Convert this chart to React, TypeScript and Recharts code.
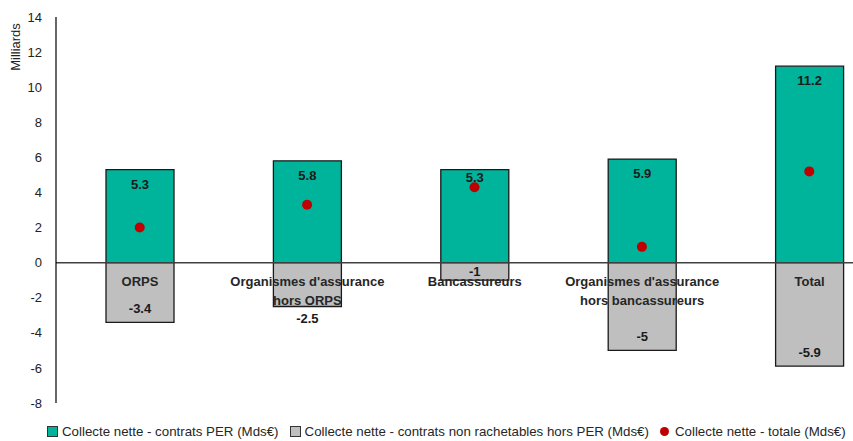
import React from 'react';
import {
  ComposedChart,
  Bar,
  Scatter,
  XAxis,
  YAxis,
  ReferenceLine,
  Legend,
  LabelList,
} from 'recharts';

const categories = [
  'ORPS',
  "Organismes d'assurance hors ORPS",
  'Bancassureurs',
  "Organismes d'assurance hors bancassureurs",
  'Total',
];
const perValues = [5.3, 5.8, 5.3, 5.9, 11.2];
const nonRachetablesValues = [-3.4, -2.5, -1, -5, -5.9];
const totalValues = [2.0, 3.3, 4.3, 0.9, 5.2];
const yTicks = [-8, -6, -4, -2, 0, 2, 4, 6, 8, 10, 12, 14];

const seriesNames = {
  per: 'Collecte nette - contrats PER (Mds€)',
  nonRach: 'Collecte nette - contrats non rachetables hors PER (Mds€)',
  total: 'Collecte nette - totale (Mds€)',
};

const TEAL = '#00B39B';
const GREY = '#BFBFBF';
const RED = '#C00000';
const FONT = '"Liberation Sans", Arial, sans-serif';

const data = categories.map((name, i) => ({
  name,
  per: perValues[i],
  nonRach: nonRachetablesValues[i],
  total: totalValues[i],
}));

const box = (props: any) => {
  const vb = props.viewBox && props.viewBox.width != null ? props.viewBox : props;
  const { x, y, width, height } = vb;
  return {
    cx: x + width / 2,
    top: Math.min(y, y + height),
    bottom: Math.max(y, y + height),
    h: Math.abs(height),
  };
};

const PerLabel = (props: any) => {
  const { cx, top } = box(props);
  const pad = props.index === 2 ? 8 : 14.5;
  return (
    <text x={cx} y={top + pad} textAnchor="middle" dominantBaseline="central"
      fontSize={13} fontWeight="bold" fill="#1a1a1a" fontFamily={FONT}>
      {props.value}
    </text>
  );
};

const NonRachLabel = (props: any) => {
  const { cx, bottom, h } = box(props);
  let cy = bottom - Math.min(14, h / 2);
  if (props.index === 1) cy = bottom + 12;
  return (
    <text x={cx} y={cy} textAnchor="middle" dominantBaseline="central"
      fontSize={13} fontWeight="bold" fill="#1a1a1a" fontFamily={FONT}>
      {props.value}
    </text>
  );
};

// category names sit just under the zero line, i.e. the top of the negative bars
const CategoryLabel = (props: any) => {
  const { cx, top } = box(props);
  const name = String(props.value);
  const idx = name.indexOf(' hors ');
  const lines = idx > 0 ? [name.slice(0, idx), name.slice(idx + 1)] : [name];
  return (
    <text textAnchor="middle" fontSize={13} fontWeight="bold" fill="#262626" fontFamily={FONT}>
      {lines.map((l, i) => (
        <tspan key={i} x={cx} y={top + 23.5 + i * 18.5}>{l}</tspan>
      ))}
    </text>
  );
};

const LegendRow = () => {
  const item = { display: 'flex', alignItems: 'center', marginRight: 11 } as const;
  const square = (c: string) => (
    <span style={{ width: 9, height: 9, background: c, border: '1px solid #333', marginRight: 4, display: 'inline-block' }} />
  );
  return (
    <div style={{ height: 20, display: 'flex', alignItems: 'center', paddingLeft: 47, fontFamily: FONT, fontSize: 13.3, color: '#262626', whiteSpace: 'nowrap' }}>
      <div style={item}>{square(TEAL)}{seriesNames.per}</div>
      <div style={item}>{square(GREY)}{seriesNames.nonRach}</div>
      <div style={item}>
        <span style={{ width: 9, height: 9, borderRadius: '50%', background: RED, marginRight: 6, display: 'inline-block' }} />
        {seriesNames.total}
      </div>
    </div>
  );
};

export default function App() {
  return (
    <div style={{ position: 'absolute', top: 0, left: 0, width: 853, height: 441, overflow: 'hidden', background: '#fff' }}>
      <ComposedChart
        width={900}
        height={441}
        data={data}
        stackOffset="sign"
        margin={{ top: 17, right: 7, bottom: 18, left: 0 }}
      >
        <XAxis dataKey="name" hide />
        <YAxis
          domain={[-8, 14]}
          ticks={yTicks}
          interval={0}
          width={56}
          tickLine={false}
          tickMargin={8}
          axisLine={{ stroke: '#000', strokeWidth: 1.2 }}
          tick={{ fontSize: 13, fill: '#222', fontFamily: FONT }}
          label={{
            content: () => (
              <text x={15} y={47} transform="rotate(-90 15 47)" textAnchor="middle"
                dominantBaseline="central" fontSize={13} fill="#222" fontFamily={FONT}>
                Milliards
              </text>
            ),
          }}
        />
        <Bar dataKey="per" stackId="a" fill={TEAL} stroke="#1a1a1a" strokeWidth={1.3} barSize={68} isAnimationActive={false}>
          <LabelList dataKey="per" content={PerLabel} />
        </Bar>
        <Bar dataKey="nonRach" stackId="a" fill={GREY} stroke="#1a1a1a" strokeWidth={1.3} barSize={68} isAnimationActive={false}>
          <LabelList dataKey="nonRach" content={NonRachLabel} />
          <LabelList dataKey="name" content={CategoryLabel} />
        </Bar>
        <ReferenceLine y={0} stroke="#404040" strokeWidth={1.5} />
        <Scatter
          dataKey="total"
          fill={RED}
          isAnimationActive={false}
          shape={(p: any) => <circle cx={p.cx} cy={p.cy} r={5} fill={RED} />}
        />
        <Legend verticalAlign="bottom" wrapperStyle={{ left: 0, bottom: 0, width: 853 }} content={() => <LegendRow />} />
      </ComposedChart>
    </div>
  );
}
